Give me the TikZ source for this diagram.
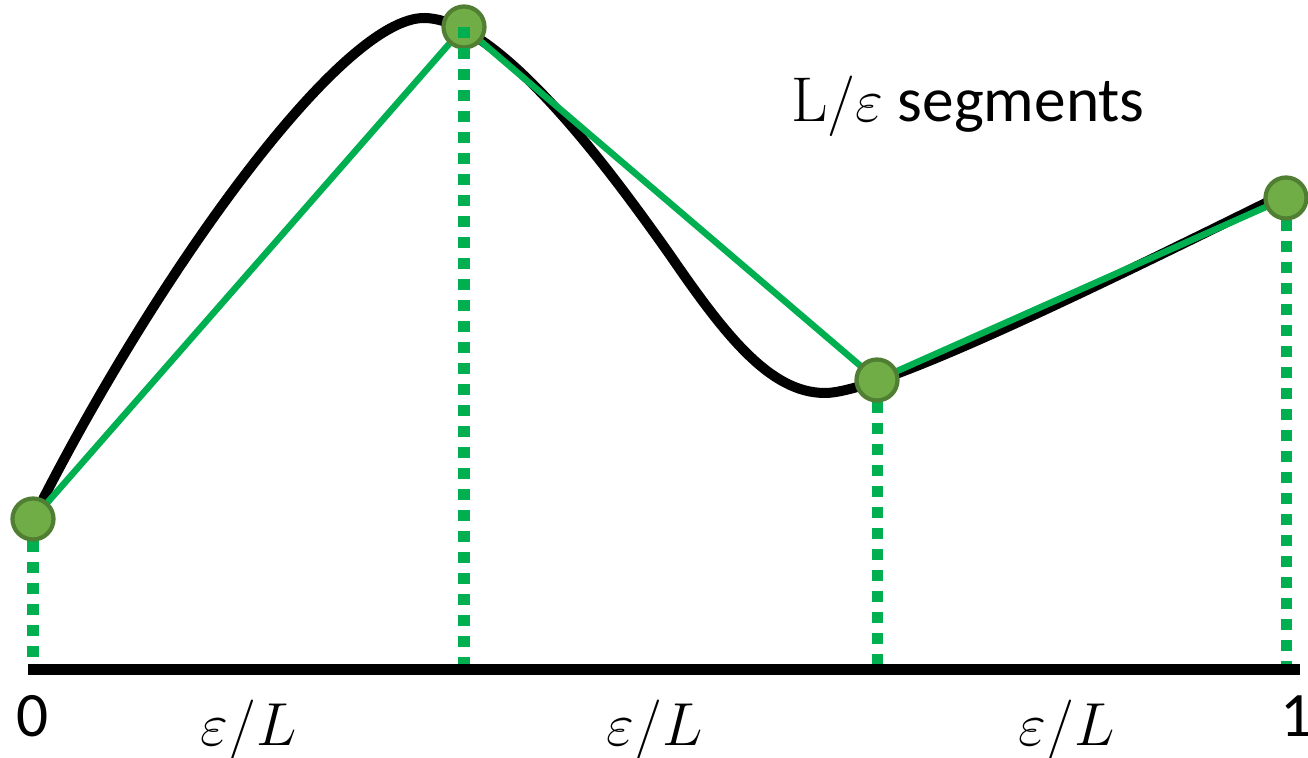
\documentclass[tikz,border=0pt]{standalone}
\usepackage{amsmath}
\usepackage{fontspec}
\setmainfont{Carlito}
\newfontfamily\lmroman{Latin Modern Roman}
\usepackage{tikz}

\definecolor{segGreen}{HTML}{00B050}
\definecolor{dotFill}{HTML}{70AD47}
\definecolor{dotEdge}{HTML}{507E32}

\begin{document}
\begin{tikzpicture}[x=0.01cm,y=-0.01cm,
  dot/.style={circle,draw=dotEdge,fill=dotFill,line width=1.2pt,inner sep=0pt,minimum size=0.41cm},
  drop/.style={segGreen,line width=0.11cm,dash pattern=on 0.11cm off 0.1cm},
  chord/.style={segGreen,line width=0.065cm},
  lbl/.style={font=\fontsize{18}{20}\selectfont,inner sep=0pt}]
  \useasboundingbox (0,0) rectangle (1308,758);
  % sample points and their feet on the axis
  \coordinate (c0) at (33,519);
  \coordinate (c1) at (464,27);
  \coordinate (c2) at (877,380);
  \coordinate (c3) at (1286,198);
  \coordinate (b0) at (33,664);
  \coordinate (b1) at (464,664);
  \coordinate (b2) at (877,664);
  \coordinate (b3) at (1286,664);
  \coordinate (axL) at (28,670);
  \coordinate (axR) at (1300,670);
  % axis
  \draw[line width=0.11cm] (axL) -- (axR);
  % drops
  \draw[drop] (c0) ++(0,22) -- (b0);
  \draw[drop] (c1) -- (b1);
  \draw[drop] (c2) ++(0,22) -- (b2);
  \draw[drop] (c3) ++(0,22) -- (b3);
  % function
  \draw[line width=0.1cm,line join=round] (c0)
    .. controls (150,285) and (340,16) .. (425,18)
    .. controls (500,20) and (610,170) .. (670,255)
    .. controls (725,335) and (770,393) .. (825,393)
    .. controls (880,393) and (1100,285) .. (1286,193);
  % chords
  \draw[chord] (c0) -- (c1) -- (c2) -- (c3);
  \node[dot] (p0) at (c0) {};
  \node[dot] (p1) at (c1) {};
  \node[dot] (p2) at (c2) {};
  \node[dot] (p3) at (c3) {};
  \draw[drop] (p1.center) -- (p1.south);
  % labels
  \node[lbl] (zero) at (33,716) {0};
  \node[lbl] (one) at (1297,716) {1};
  \node[lbl,font=\fontsize{19}{21}\selectfont] (w0) at (249,730) {$\varepsilon/L$};
  \node[lbl,font=\fontsize{19}{21}\selectfont] (w1) at (655,730) {$\varepsilon/L$};
  \node[lbl,font=\fontsize{19}{21}\selectfont] (w2) at (1067,730) {$\varepsilon/L$};
  \node[lbl] (segs) at (968,106) {{\lmroman L}$/\varepsilon$ segments};
\end{tikzpicture}
\end{document}
